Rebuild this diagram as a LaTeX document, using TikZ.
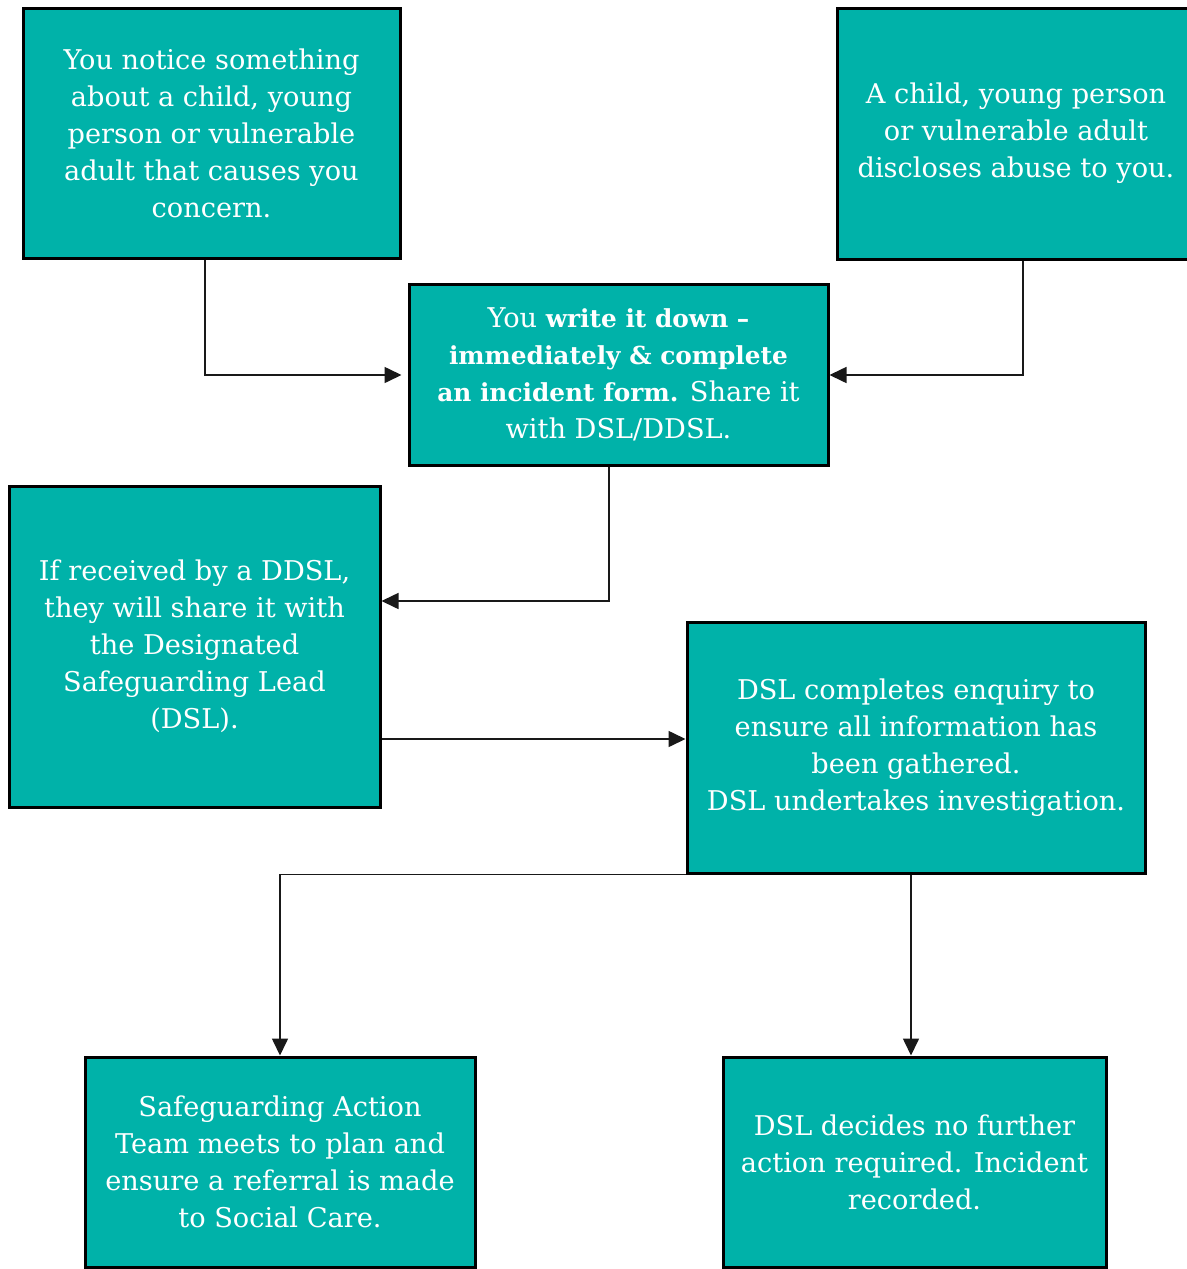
\documentclass[tikz,border=0pt]{standalone}
\usepackage{fontspec}
\setmainfont{DejaVu Serif}
\usetikzlibrary{arrows.meta,calc}
\definecolor{tealbox}{RGB}{0,178,169}
\newcommand{\bsmall}[1]{{\fontsize{12.4}{18.5}\selectfont\bfseries #1}}
\begin{document}
\begin{tikzpicture}[x=0.5pt,y=-0.5pt,
  box/.style={draw=black,line width=1.5pt,fill=tealbox,text=white,align=center,inner sep=0pt,
    font=\fontsize{13.6}{18.5}\selectfont},
  wh/.style 2 args={minimum width=#1*0.5pt,minimum height=#2*0.5pt},
  arr/.style={draw=black!90,line width=0.8pt,-{Triangle[length=8.5pt,width=8pt]}}]
\path[use as bounding box] (0,0) rectangle (1187,1269);
\clip (0,0) rectangle (1187,1269);
\fill[white] (0,0) rectangle (1187,1269);

\node[box,wh={377}{250}] (b1) at (211.5,133) {You notice something\\about a child, young\\person or vulnerable\\adult that causes you\\concern.};
\node[box,wh={358}{251}] (b2) at (1016,133.5) {A child, young person\\or vulnerable adult\\discloses abuse to you.};
\node[box,wh={419}{181}] (b3) at (618.5,374.5) {You \bsmall{write it down –}\\\bsmall{immediately \& complete}\\\bsmall{an incident form.} Share it\\with DSL/DDSL.};
\node[box,wh={371}{321}] (b4) at (194.5,646.5) {If received by a DDSL,\\they will share it with\\the Designated\\Safeguarding Lead\\(DSL).};
\node[box,wh={458}{251}] (b5) at (916,747.5) {DSL completes enquiry to\\ensure all information has\\been gathered.\\DSL undertakes investigation.};
\node[box,wh={390}{210}] (b6) at (280,1162) {Safeguarding Action\\Team meets to plan and\\ensure a referral is made\\to Social Care.};
\node[box,wh={383}{210}] (b7) at (914.5,1162) {DSL decides no further\\action required. Incident\\recorded.};

\draw[arr] ($(b1.south)+(-6.5,0)$) |- ($(b3.west)+(-6,0.5)$);
\draw[arr] ($(b2.south)+(7,0)$) |- ($(b3.east)+(0,0.5)$);
\draw[arr] ($(b3.south)+(-9.5,0)$) |- ($(b4.east)+(0,-45.5)$);
\draw[arr] ($(b4.east)+(0,92.5)$) -- ($(b5.west)+(0,-8.5)$);
\draw[arr] (b5.south west) -| (b6.north);
\draw[arr] ($(b5.south)+(-5,0)$) -- ($(b7.north)+(-3.5,0)$);
\end{tikzpicture}
\end{document}
